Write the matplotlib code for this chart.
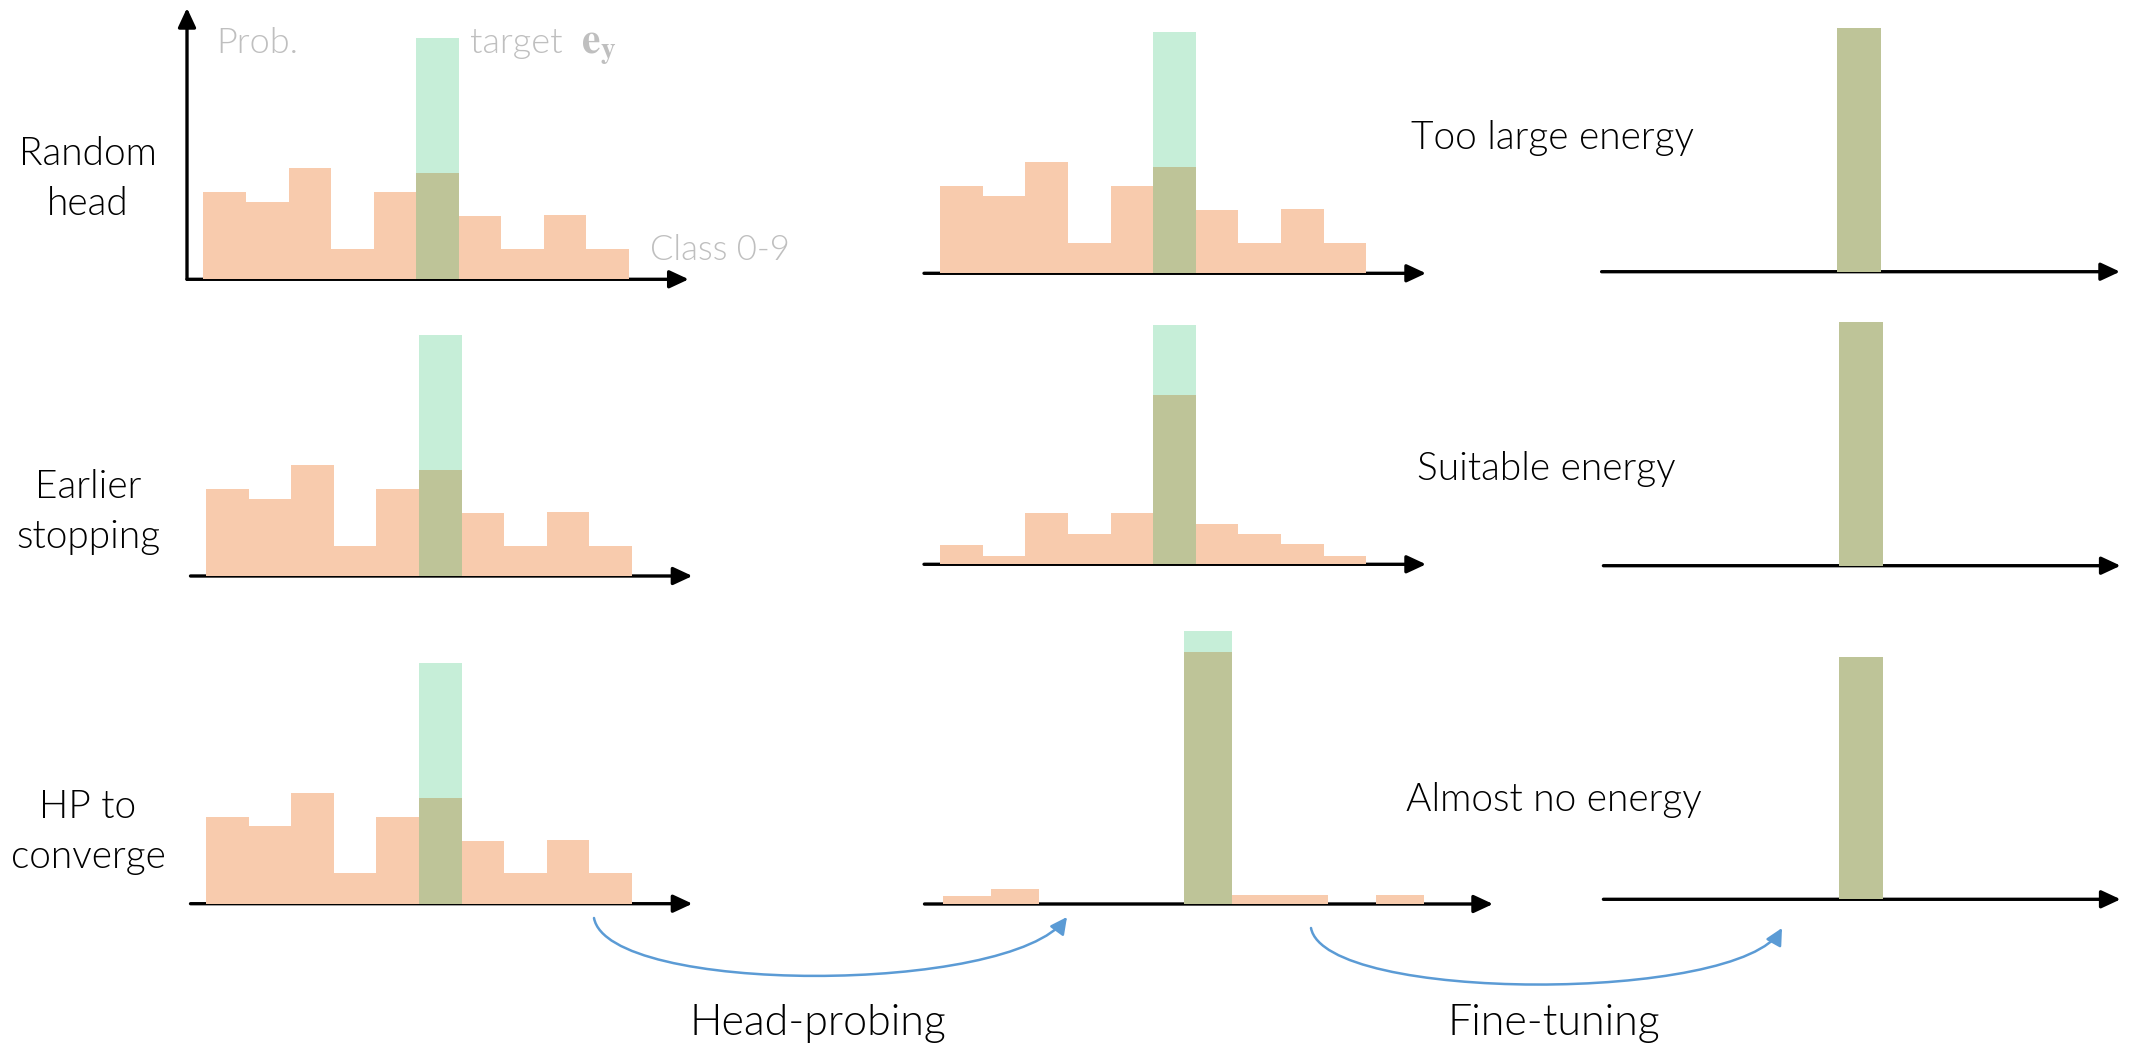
import numpy as np
import matplotlib
matplotlib.use("Agg")
import matplotlib.pyplot as plt
from matplotlib.patches import FancyArrowPatch
from matplotlib.path import Path

plt.rcParams['font.family'] = ['Lato', 'DejaVu Sans']
plt.rcParams['font.weight'] = 300
plt.rcParams['mathtext.fontset'] = 'stix'

W, H = 2136, 1045

# ---------------- data ----------------
classes = np.arange(10)
target_class = 5
target_height = 1.0

prob_random_head = [0.361, 0.321, 0.461, 0.126, 0.361, 0.440, 0.261, 0.126, 0.266, 0.126]
prob_hp_suitable = [0.081, 0.035, 0.216, 0.127, 0.216, 0.708, 0.169, 0.127, 0.085, 0.035]
prob_hp_converge = [0.029, 0.055, 0.0, 0.0, 0.0, 0.924, 0.033, 0.033, 0.0, 0.033]
prob_finetuned = [0.0, 0.0, 0.0, 0.0, 0.0, 1.0, 0.0, 0.0, 0.0, 0.0]

row_labels = [["Random", "head"], ["Earlier", "stopping"], ["HP to", "converge"]]
energy_labels = ["Too large energy", "Suitable energy", "Almost no energy"]
stage_labels = ["Head-probing", "Fine-tuning"]
prob_label = "Prob."
target_label = "target"
target_symbol = r"$\mathbf{e}_\mathbf{y}$"
class_label = "Class 0-9"

panel_probs = [
    [prob_random_head, prob_random_head, prob_finetuned],
    [prob_random_head, prob_hp_suitable, prob_finetuned],
    [prob_random_head, prob_hp_converge, prob_finetuned],
]

# ---------------- layout (pixels) ----------------
# (axis start x, first bar left x, bar width, arrow tip x, baseline y, px per unit prob)
panel_geom = [
    [(187, 203.4, 42.56, 688.7, 279.3, 241), (924, 940.2, 42.59, 1426, 273.3, 241),
     (1601.6, 1617, 44, 2120, 271.7, 243.7)],
    [(190.5, 206.2, 42.56, 692.4, 576, 241), (924, 940.2, 42.59, 1426, 564.3, 239),
     (1603.4, 1618.9, 44, 2120.6, 565.7, 243.7)],
    [(190.5, 206.2, 42.56, 692.4, 903.7, 241), (924.5, 943.1, 48.1, 1493, 904, 273),
     (1603.4, 1618.9, 44, 2120.6, 899.3, 242.7)],
]

ORANGE = '#F8CBAD'
GREEN = '#C6EED8'
OLIVE = '#BEC498'
GREY = '#BFBFBF'
BLUE = '#5B9BD5'

fig = plt.figure(figsize=(W / 100, H / 100), dpi=100)
bg = fig.add_axes([0, 0, 1, 1])
bg.set_xlim(0, W)
bg.set_ylim(H, 0)
bg.axis('off')

axis_arrow = dict(arrowstyle='-|>,head_length=0.58,head_width=0.27', mutation_scale=20,
                  lw=2.4, color='black', shrinkA=0, shrinkB=0)

for r in range(3):
    for c in range(3):
        x0, bx, bw, x1, yb, hu = panel_geom[r][c]
        ax = fig.add_axes([x0 / W, (H - yb) / H, (x1 - x0) / W, hu / H])
        xmin = (x0 - bx) / bw
        xmax = xmin + (x1 - x0) / bw
        ax.set_xlim(xmin, xmax)
        ax.set_ylim(0, 1)
        ax.axis('off')
        probs = panel_probs[r][c]
        ax.bar(classes, probs, width=1, align='edge', color=ORANGE, linewidth=0, zorder=2)
        ax.bar(target_class, target_height, width=1, align='edge', color=GREEN, linewidth=0, zorder=3)
        ax.bar(target_class, probs[target_class], width=1, align='edge', color=OLIVE,
               linewidth=0, zorder=4)
        ax.annotate('', xy=(xmax, 0), xytext=(xmin, 0), arrowprops=axis_arrow,
                    annotation_clip=False, zorder=1)
        if r == 0 and c == 0:
            ax.annotate('', xy=(xmin, (yb - 8) / hu), xytext=(xmin, 0), arrowprops=axis_arrow,
                        annotation_clip=False, zorder=1)

# grey axis annotations
bg.text(216, 53, prob_label, fontsize=26, color=GREY, va='baseline', ha='left')
bg.text(470, 53, target_label, fontsize=26, color=GREY, va='baseline', ha='left')
bg.text(581, 53, target_symbol, fontsize=30, color=GREY, va='baseline', ha='left')
bg.text(650, 260, class_label, fontsize=25, color=GREY, va='baseline', ha='left')

# row labels
row_baselines = [(165, 215), (498, 548), (818, 868)]
for lab, bls in zip(row_labels, row_baselines):
    for line, y in zip(lab, bls):
        bg.text(88, y, line, fontsize=28, color='black', ha='center', va='baseline')

# energy labels
energy_pos = [(1411, 149), (1417, 480), (1406, 811)]
for lab, (x, y) in zip(energy_labels, energy_pos):
    bg.text(x, y, lab, fontsize=28, color='black', ha='left', va='baseline')

# stage labels
bg.text(818, 1035, stage_labels[0], fontsize=31, color='black', ha='center', va='baseline')
bg.text(1554, 1035, stage_labels[1], fontsize=31, color='black', ha='center', va='baseline')

# curved transition arrows
def curved_arrow(p0, p1, p2, p3):
    path = Path([p0, p1, p2, p3], [Path.MOVETO, Path.CURVE4, Path.CURVE4, Path.CURVE4])
    arr = FancyArrowPatch(path=path, arrowstyle='-|>,head_length=0.63,head_width=0.32',
                          mutation_scale=16, lw=1.8, color=BLUE)
    bg.add_patch(arr)

curved_arrow((594, 918), (608, 995), (1010, 995), (1067, 917))
curved_arrow((1311, 928), (1325, 1003), (1740, 1003), (1782, 928))

fig.savefig('out.png', dpi=100)
